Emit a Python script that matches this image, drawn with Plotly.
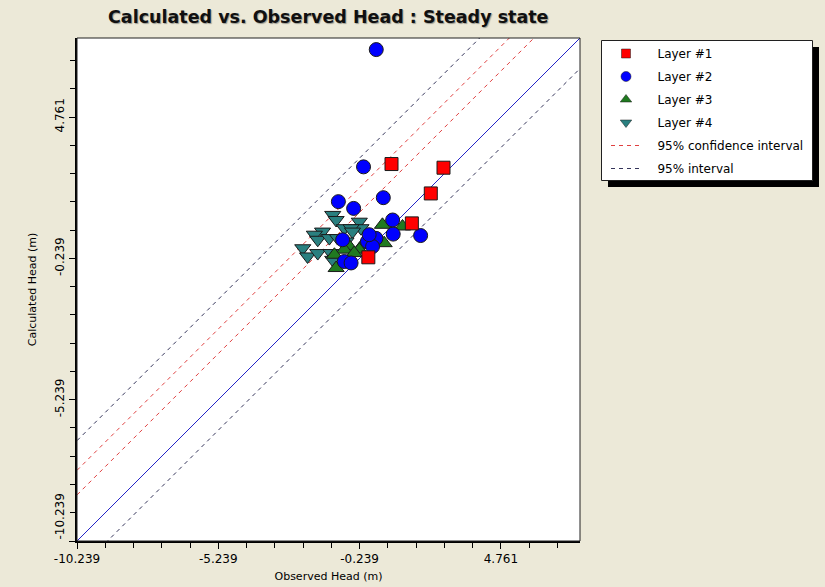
import plotly.graph_objects as go

# Observed vs calculated heads (m), one list pair per model layer
layer1_obs = [0.89, 2.73, 2.28, 1.61, 0.07]
layer1_calc = [3.10, 2.97, 2.06, 1.00, -0.20]

layer2_obs = [0.35, -0.10, -0.99, -0.45, 0.60, 0.93, 0.95, 1.92, 0.34, 0.04, -0.84, -0.78, -0.54, 0.22, 0.10]
layer2_calc = [7.15, 3.00, 1.77, 1.53, 1.91, 1.12, 0.62, 0.57, 0.47, 0.36, 0.42, -0.35, -0.40, 0.18, 0.60]

layer3_obs = [0.57, 1.28, 0.63, -0.13, -0.60, -0.25, -0.78, -1.07, -0.43, -1.13]
layer3_calc = [0.95, 0.89, 0.30, 0.24, 0.18, 0.07, 0.07, -0.58, -0.05, -0.11]

layer4_obs = [-1.19, -1.07, -0.78, -0.25, -0.19, -0.54, -1.55, -1.84, -1.72, -1.31, -1.02, -0.49, -2.25, -2.08, -1.72, -1.25, -1.19, -0.72]
layer4_calc = [1.30, 1.12, 0.83, 1.06, 0.83, 0.83, 0.71, 0.60, 0.42, 0.48, 0.48, 0.71, 0.12, -0.17, -0.05, -0.05, -0.29, 0.36]

# Offsets of the reference lines from the 1:1 line (calculated - observed, m)
confidence_offsets = [1.63, 2.50]
interval_offsets = [-1.08, 3.55]

axis_min = -10.239
axis_max = 7.56
tick_values = [-10.239, -5.239, -0.239, 4.761]
tick_labels = ["-10.239", "-5.239", "-0.239", "4.761"]

title_text = "Calculated vs. Observed Head : Steady state"
x_title = "Observed Head (m)"
y_title = "Calculated Head (m)"

FONT = "DejaVu Sans, Verdana, sans-serif"
LEFT, RIGHT, TOP, BOTTOM = 77, 580, 38, 541
W, H = 825, 587
NBSP = "\u00a0"

layers = [
    ("Layer #1", layer1_obs, layer1_calc, "square", 13, 9, "#ff0000"),
    ("Layer #2", layer2_obs, layer2_calc, "circle", 14, 10, "#0000ff"),
    ("Layer #3", layer3_obs, layer3_calc, "triangle-up", 14, 10, "#207a20"),
    ("Layer #4", layer4_obs, layer4_calc, "triangle-down", 14, 10, "#2a8080"),
]


def key_name(text):
    # small gap between the legend key and its label
    return NBSP * 3 + text


def offset_lines(offsets, x0, x1):
    """Parallel lines y = x + offset, as one gapped polyline."""
    xs, ys = [], []
    for off in offsets:
        xs += [x0, x1, None]
        ys += [x0 + off, x1 + off, None]
    return xs, ys


fig = go.Figure()

lo, hi = axis_min - 3, axis_max + 3

# 1:1 line
fig.add_trace(go.Scatter(x=[lo, hi], y=[lo, hi], mode="lines",
                         line=dict(color="#2424c8", width=1),
                         showlegend=False, hoverinfo="skip"))

ci_x, ci_y = offset_lines(confidence_offsets, lo, hi)
fig.add_trace(go.Scatter(x=ci_x, y=ci_y, mode="lines", connectgaps=False,
                         line=dict(color="#e04040", width=1, dash="4px,4px"),
                         name=key_name("95% confidence interval"), legendrank=5,
                         hoverinfo="skip"))

pi_x, pi_y = offset_lines(interval_offsets, lo, hi)
fig.add_trace(go.Scatter(x=pi_x, y=pi_y, mode="lines", connectgaps=False,
                         line=dict(color="#34345a", width=1, dash="4px,4px"),
                         name=key_name("95% interval"), legendrank=6,
                         hoverinfo="skip"))

outline = dict(color="#1a1a1a", width=1)
# data markers, drawn from the deepest layer up
for rank, (name, xs, ys, sym, size, _, color) in reversed(list(enumerate(layers, start=1))):
    fig.add_trace(go.Scatter(x=xs, y=ys, mode="markers", name=name, showlegend=False,
                             legendgroup=f"l{rank}",
                             marker=dict(symbol=sym, size=size, color=color, line=outline)))

# legend keys with smaller symbols
for rank, (name, _, _, sym, _, key_size, color) in enumerate(layers, start=1):
    fig.add_trace(go.Scatter(x=[None], y=[None], mode="markers", name=key_name(name),
                             legendgroup=f"l{rank}", legendrank=rank,
                             marker=dict(symbol=sym, size=key_size, color=color,
                                         line=dict(color="#1a1a1a", width=0.5))))

pw, ph = RIGHT - LEFT, BOTTOM - TOP


def px_x(p):
    return (p - LEFT) / pw


def px_y(p):
    return (BOTTOM - p) / ph


shapes = [
    # legend drop shadow and box
    dict(type="rect", xref="paper", yref="paper", layer="below",
         x0=px_x(608), x1=px_x(819), y0=px_y(187), y1=px_y(47),
         fillcolor="black", line=dict(width=0)),
    dict(type="rect", xref="paper", yref="paper", layer="below",
         x0=px_x(601.5), x1=px_x(812.5), y0=px_y(180.5), y1=px_y(40.5),
         fillcolor="white", line=dict(color="#202020", width=1)),
    # thin frame on top/right of the plot area
    dict(type="rect", xref="paper", yref="paper", x0=0, x1=1, y0=0, y1=1,
         line=dict(color="#202020", width=1)),
]

annotations = [
    dict(text=f"<b>{title_text}</b>", xref="paper", yref="paper", x=0.5, y=px_y(17),
         xanchor="center", yanchor="middle", showarrow=False,
         font=dict(family=FONT, size=17.5, color="#101010", shadow="1px 1px 1px #9a9a90")),
]

axis_common = dict(
    range=[axis_min, axis_max], tickmode="array", tickvals=tick_values,
    ticks="outside", ticklen=6, tickwidth=1, tickcolor="black",
    minor=dict(dtick=1, tick0=axis_min, ticks="outside", ticklen=5, tickcolor="black", showgrid=False),
    showgrid=False, zeroline=False, showline=True, linecolor="black", linewidth=2,
    tickfont=dict(family=FONT, size=12, color="black"),
)

# the lowest y label is nudged up, clear of the corner
y_tick_text = [NBSP * 12 + tick_labels[0]] + tick_labels[1:]

fig.update_layout(
    width=W, height=H,
    margin=dict(l=LEFT, r=W - RIGHT, t=TOP, b=H - BOTTOM, autoexpand=False),
    paper_bgcolor="#ece9d8", plot_bgcolor="white",
    xaxis=dict(axis_common, ticktext=tick_labels,
               title=dict(text=x_title, font=dict(family=FONT, size=11, color="black"), standoff=7)),
    yaxis=dict(axis_common, ticktext=y_tick_text, tickangle=-90,
               title=dict(text=y_title, font=dict(family=FONT, size=11, color="black"), standoff=14)),
    shapes=shapes, annotations=annotations,
    legend=dict(x=px_x(606), y=px_y(39), xanchor="left", yanchor="top",
                bgcolor="rgba(0,0,0,0)", borderwidth=0, tracegroupgap=4, itemwidth=30,
                font=dict(family=FONT, size=12, color="black"), itemsizing="trace"),
    showlegend=True,
)

fig.write_html("out.html")
